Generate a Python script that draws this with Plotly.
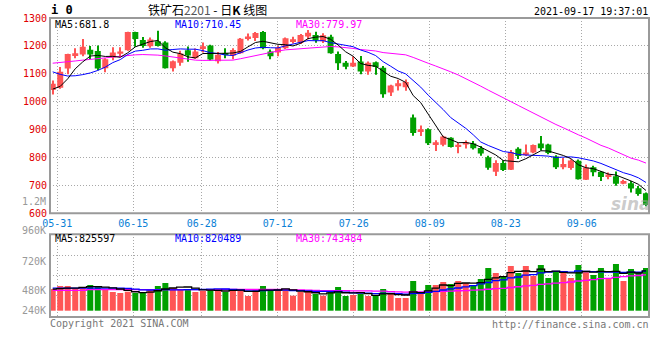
import plotly.graph_objects as go

# ---------------- data ----------------
dates = ["05-28", "05-31",
         "06-01", "06-02", "06-03", "06-04", "06-07", "06-08", "06-09", "06-10", "06-11",
         "06-15", "06-16", "06-17", "06-18", "06-21", "06-22", "06-23", "06-24", "06-25",
         "06-28", "06-29", "06-30",
         "07-01", "07-02", "07-05", "07-06", "07-07", "07-08", "07-09", "07-12", "07-13",
         "07-14", "07-15", "07-16", "07-19", "07-20", "07-21", "07-22", "07-23", "07-26",
         "07-27", "07-28", "07-29", "07-30",
         "08-02", "08-03", "08-04", "08-05", "08-06", "08-09", "08-10", "08-11", "08-12",
         "08-13", "08-16", "08-17", "08-18", "08-19", "08-20", "08-23", "08-24", "08-25",
         "08-26", "08-27", "08-30", "08-31",
         "09-01", "09-02", "09-03", "09-06", "09-07", "09-08", "09-09", "09-10", "09-13",
         "09-14", "09-15", "09-16", "09-17"]

opens = [1042, 1050, 1119, 1167, 1169, 1186, 1182, 1120, 1158, 1172,
         1184, 1250, 1221, 1199, 1217, 1212, 1120, 1140, 1184, 1156,
         1192, 1201, 1145, 1172, 1166, 1174, 1228, 1228, 1250, 1180,
         1176, 1192, 1217, 1210, 1234, 1239, 1217, 1233, 1171, 1140,
         1126, 1144, 1108, 1141, 1122, 1033, 1055, 1052, 943, 891,
         901, 845, 846, 871, 839, 847, 850, 834, 801, 749,
         780, 756, 831, 809, 818, 850, 847, 804, 765, 762,
         788, 720, 765, 749, 730, 733, 706, 708, 690, 672]
highs = [1076, 1124, 1172, 1192, 1225, 1200, 1201, 1156, 1195, 1195,
         1251, 1251, 1232, 1230, 1254, 1217, 1148, 1183, 1198, 1191,
         1212, 1204, 1178, 1192, 1192, 1228, 1244, 1250, 1253, 1187,
         1200, 1230, 1233, 1243, 1257, 1251, 1245, 1240, 1180, 1146,
         1162, 1164, 1144, 1144, 1128, 1061, 1079, 1080, 954, 915,
         905, 862, 878, 873, 853, 861, 859, 841, 806, 790,
         790, 827, 837, 847, 847, 877, 849, 808, 798, 794,
         793, 775, 770, 752, 746, 750, 720, 716, 698, 675]
lows = [1026, 1046, 1098, 1156, 1163, 1153, 1113, 1106, 1149, 1159,
        1183, 1197, 1193, 1193, 1198, 1119, 1108, 1129, 1143, 1154,
        1176, 1148, 1137, 1156, 1152, 1172, 1219, 1218, 1188, 1152,
        1163, 1189, 1209, 1207, 1224, 1211, 1210, 1172, 1114, 1116,
        1124, 1098, 1097, 1097, 1014, 1020, 1040, 1039, 878, 877,
        845, 823, 840, 836, 815, 832, 829, 806, 756, 734,
        752, 755, 795, 805, 815, 825, 812, 759, 758, 756,
        721, 719, 733, 716, 722, 699, 704, 675, 663, 625]
closes = [1064, 1107, 1171, 1174, 1197, 1169, 1119, 1152, 1176, 1180,
          1250, 1225, 1200, 1223, 1200, 1120, 1145, 1173, 1166, 1180,
          1199, 1151, 1168, 1170, 1185, 1226, 1234, 1246, 1192, 1163,
          1193, 1227, 1224, 1239, 1247, 1220, 1238, 1174, 1138, 1125,
          1140, 1108, 1140, 1124, 1027, 1058, 1066, 1071, 888, 901,
          851, 855, 875, 838, 846, 855, 833, 814, 763, 780,
          755, 820, 805, 818, 845, 833, 816, 765, 777, 789,
          722, 764, 747, 730, 739, 706, 716, 689, 669, 630]

ma5 = [1045, 1055, 1082, 1118, 1142.6, 1163.6, 1166, 1162.2, 1162.6, 1159.2,
       1175.4, 1196.6, 1206.2, 1215.6, 1219.6, 1193.6, 1177.6, 1172.2, 1160.8, 1156.8,
       1172.6, 1173.8, 1172.8, 1173.6, 1174.6, 1180, 1196.6, 1212.2, 1216.6, 1212.2,
       1205.6, 1204.2, 1199.8, 1209.2, 1226, 1231.4, 1233.6, 1223.6, 1203.4, 1179,
       1163, 1137, 1130.2, 1127.4, 1107.8, 1091.4, 1083, 1069.2, 1022, 996.8,
       955.4, 913.2, 874, 864, 853, 853.8, 849.4, 837.2, 822.2, 809,
       789, 786.4, 784.6, 795.6, 808.6, 824.2, 823.4, 815.4, 807.2, 796,
       773.8, 763.4, 759.8, 750.4, 740.4, 737.2, 727.6, 716, 703.8, 681.8]
ma10 = [1107, 1098, 1092, 1093, 1097, 1103, 1112, 1124, 1140, 1150.9,
        1169.5, 1181.3, 1184.2, 1189.1, 1189.4, 1184.5, 1187.1, 1189.2, 1188.2, 1188.2,
        1183.1, 1175.7, 1172.5, 1167.2, 1165.7, 1176.3, 1185.2, 1192.5, 1195.1, 1193.4,
        1192.8, 1200.4, 1206, 1212.9, 1219.1, 1218.5, 1218.9, 1211.7, 1206.3, 1202.5,
        1197.2, 1185.3, 1176.9, 1165.4, 1143.4, 1127.2, 1110, 1099.7, 1074.7, 1052.3,
        1023.4, 998.1, 971.6, 943, 924.9, 904.6, 881.3, 855.6, 843.1, 831,
        821.4, 817.9, 810.9, 808.9, 808.8, 806.6, 804.9, 800, 801.4, 802.3,
        799, 793.4, 787.6, 778.8, 768.2, 755.5, 745.5, 737.9, 727.1, 710.45]
ma30 = [1138, 1140, 1143, 1146, 1149, 1151, 1154, 1157, 1160, 1163,
        1166, 1168, 1169, 1169, 1167, 1164, 1160, 1156, 1152, 1149,
        1148, 1148, 1148, 1148, 1149, 1154, 1160, 1165, 1171, 1177.5,
        1181.8, 1185.8, 1187.6, 1189.7, 1191.4, 1193.1, 1197.1, 1197.8, 1196.5, 1194.7,
        1191, 1187.1, 1185.1, 1181.8, 1176.1, 1174, 1171.4, 1168, 1158.7, 1149.4,
        1137.8, 1127.9, 1118.2, 1107.1, 1095.8, 1083.4, 1070.1, 1055.7, 1041.4, 1028.6,
        1014, 1000.4, 986.5, 972.4, 959, 946.1, 932.1, 918.4, 906.4, 895.2,
        881.3, 869.8, 856.7, 843.6, 834, 822.2, 810.6, 797.8, 790.5, 779.97]

volumes = [449000, 511000, 511000, 453000, 491000, 532000, 511000, 449000, 387000, 366000,
           393000, 366000, 366000, 428000, 511000, 573000, 470000, 449000, 449000, 387000,
           408000, 428000, 428000, 387000, 449000, 428000, 304000, 428000, 511000, 449000,
           449000, 428000, 311000, 387000, 387000, 346000, 311000, 408000, 491000, 304000,
           325000, 352000, 304000, 304000, 449000, 346000, 263000, 263000, 615000, 387000,
           532000, 532000, 594000, 553000, 615000, 573000, 511000, 656000, 884000, 780000,
           698000, 925000, 780000, 925000, 718000, 946000, 677000, 822000, 801000, 677000,
           946000, 822000, 739000, 884000, 656000, 967000, 615000, 863000, 801000, 884000]
vol_ma5 = [445000, 455000, 468000, 468000, 483000, 500000, 500000, 487000, 474000, 449000,
           421000, 392000, 376000, 384000, 413000, 449000, 470000, 486000, 491000, 466000,
           433000, 424000, 420000, 408000, 420000, 424000, 400000, 400000, 424000, 424000,
           428000, 453000, 430000, 405000, 392000, 372000, 348000, 368000, 388000, 372000,
           368000, 376000, 355000, 318000, 347000, 351000, 333000, 325000, 387000, 375000,
           412000, 466000, 532000, 520000, 565000, 573000, 569000, 582000, 648000, 681000,
           706000, 789000, 814000, 822000, 809000, 859000, 809000, 818000, 793000, 785000,
           785000, 814000, 797000, 814000, 809000, 814000, 772000, 797000, 780000, 825597]
vol_ma10 = [466000, 466000, 468000, 468000, 468000, 468000, 468000, 466000, 466000, 466000,
            461000, 446000, 432000, 429000, 431000, 435000, 431000, 431000, 437000, 439000,
            441000, 447000, 453000, 449000, 443000, 428000, 412000, 410000, 416000, 422000,
            426000, 426000, 415000, 415000, 408000, 400000, 401000, 399000, 397000, 382000,
            370000, 362000, 361000, 353000, 359000, 359000, 355000, 340000, 353000, 361000,
            382000, 400000, 428000, 453000, 470000, 493000, 518000, 557000, 584000, 623000,
            640000, 679000, 698000, 735000, 745000, 782000, 799000, 816000, 807000, 797000,
            822000, 811000, 807000, 803000, 797000, 799000, 793000, 797000, 797000, 820489]
vol_ma30 = [422000, 422000, 422000, 422000, 422000, 435000, 435000, 435000, 435000, 435000,
            435000, 435000, 435000, 435000, 435000, 435000, 435000, 435000, 435000, 435000,
            435000, 435000, 435000, 440000, 440000, 440000, 440000, 440000, 440000, 443000,
            443000, 440000, 433000, 431000, 427000, 421000, 415000, 413000, 417000, 415000,
            412000, 412000, 410000, 406000, 404000, 396000, 389000, 383000, 388000, 388000,
            393000, 396000, 402000, 407000, 413000, 417000, 424000, 432000, 444000, 455000,
            464000, 480000, 496000, 513000, 525000, 544000, 557000, 571000, 582000, 594000,
            615000, 629000, 644000, 664000, 671000, 691000, 704000, 722000, 729000, 743484]

price_ticks = [600, 700, 800, 900, 1000, 1100, 1200, 1300]
date_labels = ["05-31", "06-15", "06-28", "07-12", "07-26", "08-09", "08-23", "09-06"]
vol_axis_labels = ["960K", "720K", "480K", "240K"]

title_text = "铁矿石<span style='color:#555555'>2201</span> - 日<b>K</b> 线图"
stamp_text = "2021-09-17 19:37:01"
price_legend = [("MA5:681.8", "#000000"), ("MA10:710.45", "#0000ff"), ("MA30:779.97", "#ff00ff")]
vol_legend = [("MA5:825597", "#000000"), ("MA10:820489", "#0000ff"), ("MA30:743484", "#ff00ff")]

# ---------------- styling ----------------
W, H = 660, 360
L, R, T, B = 50, 11, 18, 43
PW, PH = W - L - R, H - T - B
RED, GREEN = "#ff5555", "#00a000"
GRID = "#a8a8a8"
FRAME = "#9a9a9a"
MONO = "DejaVu Sans Mono"


def px_x(x):
    return (x - L) / PW


def px_y(y):
    return (H - B - y) / PH


n = len(dates)
xi = list(range(n))
colors = [RED if c >= o else GREEN for o, c in zip(opens, closes)]
tickpos = [dates.index(d) * 1.012 - 0.4 for d in date_labels]

fig = go.Figure()

# candle wicks
fig.add_trace(go.Bar(x=xi, base=lows, y=[h - l for h, l in zip(highs, lows)], width=0.14,
                     marker=dict(color=colors, line_width=0), xaxis="x", yaxis="y",
                     hoverinfo="skip"))
# candle bodies
fig.add_trace(go.Bar(x=xi, base=[min(o, c) for o, c in zip(opens, closes)],
                     y=[max(abs(c - o), 2.5) for o, c in zip(opens, closes)], width=0.8,
                     marker=dict(color=colors, line_width=0), xaxis="x", yaxis="y",
                     hoverinfo="skip"))
for vals, col in [(ma30, "#ff00ff"), (ma10, "#0000ff"), (ma5, "#000000")]:
    fig.add_trace(go.Scatter(x=xi, y=vals, mode="lines", line=dict(color=col, width=1),
                             xaxis="x", yaxis="y", hoverinfo="skip"))

# volume
fig.add_trace(go.Bar(x=xi, y=volumes, width=0.8, marker=dict(color=colors, line_width=0),
                     xaxis="x2", yaxis="y2", hoverinfo="skip"))
for vals, col in [(vol_ma30, "#ff00ff"), (vol_ma10, "#0000ff"), (vol_ma5, "#000000")]:
    fig.add_trace(go.Scatter(x=xi, y=vals, mode="lines", line=dict(color=col, width=1.3, shape="hvh"),
                             xaxis="x2", yaxis="y2", hoverinfo="skip"))

x_range = [-0.36, 79.4]
main_dom = [px_y(213.3), 1]
vol_dom = [0, px_y(234.3)]
vol_per_px = 20700
vol_range = [-(317 - 310.7) * vol_per_px, (310.7 - 234.3) * vol_per_px]
vol_grid = [(310.7 - y) * vol_per_px for y in (255, 275.7, 295)]

fig.update_layout(
    width=W, height=H, margin=dict(l=L, r=R, t=T, b=B, autoexpand=False),
    paper_bgcolor="white", plot_bgcolor="white", barmode="overlay", showlegend=False,
    xaxis=dict(domain=[0, 1], range=x_range, anchor="y", tickmode="array", tickvals=tickpos,
               ticktext=date_labels, showgrid=True, gridcolor=GRID, griddash="1px,2px",
               gridwidth=1, ticks="", zeroline=False, showline=False, ticklabelstandoff=3,
               tickfont=dict(family=MONO, size=10, color="#0a7fd6")),
    yaxis=dict(domain=main_dom, range=[600, 1300], tickmode="array", tickvals=price_ticks,
               ticktext=[str(v) for v in price_ticks], showgrid=True, gridcolor=GRID,
               griddash="1px,2px", gridwidth=1, ticks="", zeroline=False, showline=False,
               ticklabelstandoff=2,
               tickfont=dict(family=MONO, size=10, color="#e00000")),
    xaxis2=dict(domain=[0, 1], range=x_range, anchor="y2", tickmode="array", tickvals=tickpos,
                showticklabels=False, showgrid=True, gridcolor=GRID, griddash="1px,2px",
                gridwidth=1, ticks="", zeroline=False, showline=False),
    yaxis2=dict(domain=vol_dom, range=vol_range, tickmode="array", tickvals=vol_grid,
                showticklabels=False, showgrid=True, gridcolor=GRID, griddash="1px,2px",
                gridwidth=1, ticks="", zeroline=False, showline=False),
)

# frames
fig.add_shape(type="rect", xref="paper", yref="paper", x0=0, x1=1, y0=main_dom[0], y1=1,
              line=dict(color=FRAME, width=2), layer="above")
fig.add_shape(type="rect", xref="paper", yref="paper", x0=0, x1=1, y0=0, y1=vol_dom[1],
              line=dict(color=FRAME, width=2), layer="above")

anns = []


def ann(text, x, y, color="#000000", size=10, xanchor="left", family=MONO):
    anns.append(dict(text=text, x=px_x(x), y=px_y(y), xref="paper", yref="paper",
                     xanchor=xanchor, yanchor="middle", showarrow=False,
                     font=dict(family=family, size=size, color=color), borderpad=0))


ann("<b>i 0</b>", 50, 10, size=12)
ann(title_text, 207, 9.5, size=12, xanchor="center", family="Noto Sans CJK SC")
ann(stamp_text, 649, 11, xanchor="right")
for (txt, col), x in zip(price_legend, (54, 174, 295)):
    ann(txt, x, 24.5, color=col)
for (txt, col), x in zip(vol_legend, (54, 174, 295)):
    ann(txt, x, 238.5, color=col)
ann("1.2M", 47, 201, color="#999999", xanchor="right")
for txt, y in zip(vol_axis_labels, (230.7, 261, 290, 310)):
    ann(txt, 47, y, color="#999999", xanchor="right")
ann("Copyright 2021 SINA.COM", 49, 323.5, color="#777777")
ann("http://finance.sina.com.cn", 650, 324, color="#777777", xanchor="right")
ann("<b><i>sina</i></b>", 631, 204, color="rgba(160,160,160,0.55)", size=17,
    xanchor="center", family="DejaVu Sans")
fig.update_layout(annotations=anns)

fig.write_html("out.html", config={"displayModeBar": False},
               post_script="document.body.style.margin='0';")
